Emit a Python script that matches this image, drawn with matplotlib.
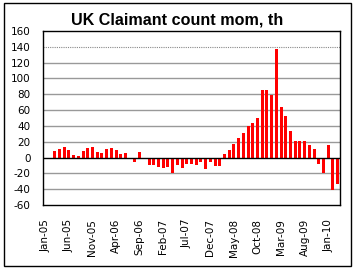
import matplotlib
matplotlib.use('Agg')
import matplotlib.pyplot as plt
from matplotlib.patches import Rectangle
import pandas as pd
import numpy as np

# monthly change in UK claimant count, thousands, Jan-05 .. Mar-10
months = pd.date_range('2005-01-01', periods=63, freq='MS').strftime('%b-%y').tolist()
values = [-1.5, -1, 8, 10.5, 13, 9, 3, 2, 8, 12,
          13, 7, 5.5, 10.5, 12, 9, 4, 5.5, 0, -6,
          7, 0, -10, -10, -12, -13, -12, -19.5, -10, -13,
          -8, -8, -9, -5.5, -14, -6, -11, -11, 4, 10,
          17, 24.5, 31, 40, 44, 50, 85, 85, 79, 137,
          64, 52, 33, 21, 21, 21, 15.6, 10.5, -8, -20,
          15.6, -41, -34]
yticks = [-60, -40, -20, 0, 20, 40, 60, 80, 100, 120, 140, 160]

fig = plt.figure(figsize=(3.54, 2.69), dpi=100, facecolor='white')
ax = fig.add_axes([43/354, 1-205/269, 297/354, 174/269])

x = np.arange(len(values))
for y in yticks[1:-1]:
    if y == 0:
        continue
    if y == 140:
        ax.axhline(y, color='#888888', lw=0.8, ls=(0, (1, 1)), zorder=0)
    else:
        ax.axhline(y, color='#999999', lw=1.0, zorder=0)
ax.bar(x, values, width=0.62, color='#ff0000', zorder=2)
ax.axhline(0, color='black', lw=1.0, zorder=3)

ax.set_xlim(-0.5, len(values) - 0.5)
ax.set_ylim(-60, 160)
ax.set_yticks(yticks)
ax.set_yticklabels([str(v) for v in yticks], fontsize=7.5)
ax.set_xticks(x[::5])
ax.set_xticklabels(months[::5], rotation=90, fontsize=7.5)
ax.tick_params(axis='both', length=0)
ax.tick_params(axis='y', pad=9)
ax.tick_params(axis='x', pad=10)
for s in ax.spines.values():
    s.set_color('black')
    s.set_linewidth(1.0)

fig.text(177/354, 1-20/269, 'UK Claimant count mom, th', ha='center', va='center',
         fontsize=11.6, fontweight='bold', family='Liberation Sans')

fig.patches.append(Rectangle((3.5/354, 2.7/269), 347/354, 263/269, transform=fig.transFigure,
                             fill=False, edgecolor='black', lw=1.0))

fig.savefig('out.png', dpi=100, facecolor='white')
